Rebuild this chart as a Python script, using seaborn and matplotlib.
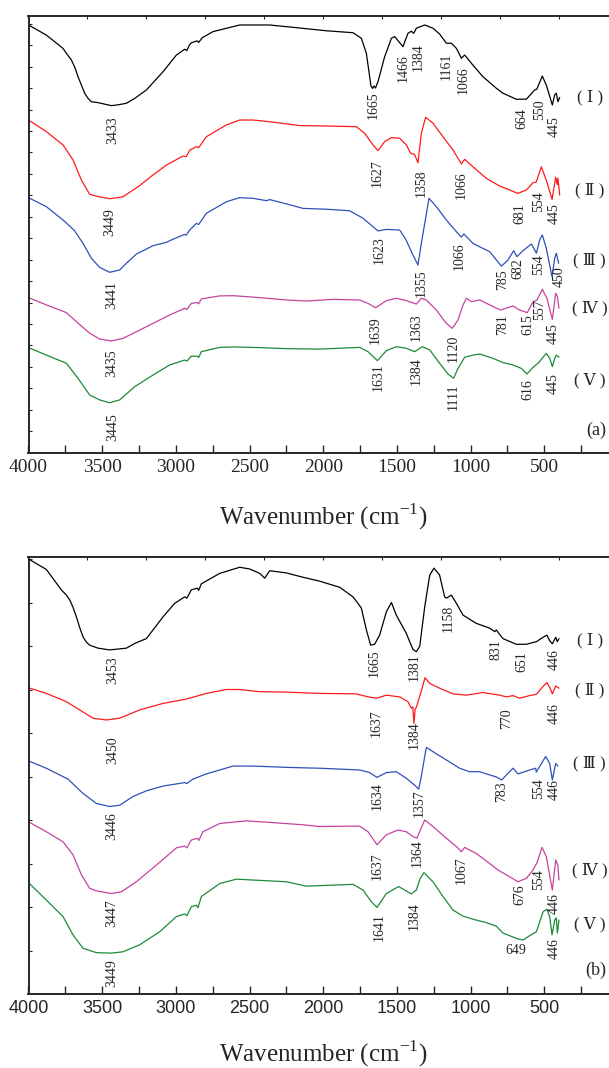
import numpy as np
import matplotlib
matplotlib.use('Agg')
import matplotlib.pyplot as plt
import seaborn as sns

# ---- spectra: [wavenumber, offset transmittance] ----
# panel (a)
a1 = np.array([[4000, 19.94], [3879, 19.47], [3766, 18.85], [3743, 18.62], [3709, 18.31], [3686, 17.97],
               [3664, 17.53], [3641, 17.14], [3619, 16.76], [3596, 16.52], [3573, 16.36], [3528, 16.32],
               [3483, 16.25], [3437, 16.18], [3390, 16.22], [3336, 16.29], [3279, 16.52], [3200, 16.91],
               [3087, 17.76], [2996, 18.54], [2940, 18.81], [2925, 18.75], [2910, 18.98], [2895, 19.11],
               [2855, 19.2], [2845, 19.13], [2820, 19.35], [2748, 19.63], [2567, 19.94], [2363, 19.94],
               [2160, 19.8], [1978, 19.67], [1798, 19.58], [1741, 19.32], [1707, 18.62], [1676, 17.1],
               [1665, 16.98], [1655, 17.1], [1645, 17.0], [1628, 17.3], [1583, 18.46], [1537, 19.32],
               [1515, 19.4], [1459, 18.93], [1425, 19.55], [1402, 19.65], [1386, 19.55], [1368, 19.79],
               [1311, 19.94], [1255, 19.79], [1210, 19.52], [1164, 19.09], [1130, 19.09], [1096, 18.85],
               [1062, 18.39], [1040, 18.54], [984, 18.07], [916, 17.53], [825, 16.99], [780, 16.76],
               [690, 16.48], [621, 16.48], [565, 16.91], [550, 16.95], [513, 17.56], [486, 17.14],
               [445, 16.21], [429, 16.68], [418, 16.76], [407, 16.36], [395, 16.56]])
a2 = np.array([[4000, 11.89], [4000, 15.51], [3879, 14.97], [3766, 14.35], [3698, 13.65], [3641, 12.71],
               [3585, 12.05], [3539, 11.96], [3449, 11.84], [3359, 11.93], [3246, 12.45], [3155, 12.95],
               [3064, 13.41], [2952, 13.83], [2930, 13.8], [2906, 14.1], [2861, 14.27], [2845, 14.22],
               [2793, 14.73], [2657, 15.28], [2567, 15.51], [2477, 15.51], [2363, 15.43], [2160, 15.25],
               [1978, 15.23], [1775, 15.2], [1719, 14.89], [1662, 14.35], [1628, 14.08], [1583, 14.5],
               [1537, 14.69], [1481, 14.66], [1436, 14.35], [1407, 13.96], [1380, 13.9], [1357, 13.52],
               [1334, 14.89], [1305, 15.64], [1255, 15.36], [1187, 14.73], [1119, 14.11], [1062, 13.46],
               [1040, 13.68], [984, 13.33], [893, 12.79], [802, 12.43], [735, 12.25], [678, 12.09],
               [621, 12.25], [576, 12.59], [554, 12.62], [520, 13.33], [486, 12.71], [447, 11.81],
               [422, 12.84], [411, 12.5], [407, 12.8], [395, 12.01]])
a3 = np.array([[4000, 7.97], [4000, 11.89], [3879, 11.47], [3766, 10.85], [3690, 10.37], [3630, 9.76],
               [3573, 9.06], [3517, 8.64], [3449, 8.41], [3381, 8.52], [3336, 8.83], [3268, 9.26],
               [3155, 9.65], [3064, 9.81], [3030, 9.92], [2940, 10.18], [2930, 10.14], [2906, 10.38],
               [2861, 10.69], [2845, 10.64], [2793, 11.16], [2657, 11.7], [2567, 11.89], [2477, 11.86],
               [2386, 11.75], [2363, 11.8], [2250, 11.6], [2137, 11.39], [1978, 11.35], [1821, 11.28],
               [1730, 10.93], [1628, 10.34], [1571, 10.41], [1481, 10.38], [1440, 9.95], [1391, 9.22],
               [1357, 8.75], [1334, 9.76], [1282, 11.86], [1232, 11.47], [1164, 10.85], [1096, 10.3],
               [1062, 10.05], [1045, 10.2], [984, 9.76], [938, 9.6], [870, 9.37], [791, 8.7],
               [746, 8.98], [707, 9.42], [685, 9.14], [644, 9.42], [587, 9.73], [553, 9.3],
               [531, 9.92], [513, 10.15], [486, 9.53], [447, 8.2], [429, 9.06], [418, 9.3], [402, 8.83]])
a4 = np.array([[4000, 4.9], [4000, 7.23], [3879, 6.89], [3743, 6.53], [3675, 6.11], [3585, 5.57],
               [3517, 5.3], [3437, 5.21], [3359, 5.33], [3268, 5.64], [3155, 6.03], [3042, 6.42],
               [2940, 6.73], [2925, 6.68], [2895, 6.96], [2855, 7.0], [2845, 6.94], [2827, 7.17],
               [2702, 7.31], [2612, 7.32], [2431, 7.23], [2250, 7.12], [2114, 7.07], [1934, 7.15],
               [1753, 7.12], [1696, 6.96], [1644, 6.76], [1571, 7.09], [1504, 7.2], [1436, 7.09],
               [1368, 6.93], [1334, 7.2], [1300, 7.12], [1232, 6.65], [1164, 6.03], [1124, 5.8],
               [1085, 6.19], [1051, 6.89], [1028, 7.2], [994, 7.04], [938, 7.12], [870, 6.89],
               [796, 6.65], [712, 6.84], [667, 6.65], [615, 6.53], [576, 7.04], [549, 7.12],
               [513, 7.62], [482, 7.2], [445, 6.22], [422, 7.43], [411, 7.3], [400, 6.73]])
a5 = np.array([[4000, 1.06], [4000, 4.9], [3879, 4.55], [3743, 4.17], [3664, 3.47], [3585, 2.69],
               [3517, 2.46], [3449, 2.33], [3381, 2.46], [3279, 3.08], [3155, 3.62], [3042, 4.09],
               [2940, 4.32], [2925, 4.27], [2895, 4.5], [2855, 4.5], [2845, 4.44], [2827, 4.71],
               [2702, 4.91], [2612, 4.93], [2431, 4.9], [2250, 4.85], [2024, 4.83], [1753, 4.91],
               [1696, 4.71], [1632, 4.29], [1571, 4.76], [1504, 4.94], [1436, 4.87], [1379, 4.71],
               [1327, 4.94], [1277, 4.79], [1210, 4.17], [1153, 3.67], [1115, 3.47], [1085, 3.93],
               [1040, 4.45], [984, 4.55], [938, 4.6], [848, 4.4], [780, 4.2], [712, 4.09],
               [655, 3.93], [617, 3.67], [576, 3.98], [542, 4.17], [486, 4.63], [463, 4.4],
               [445, 4.01], [429, 4.4], [418, 4.55], [400, 4.45]])

# panel (b)
b1 = np.array([[4000, 10.0], [3879, 9.76], [3777, 9.29], [3743, 9.17], [3720, 9.06], [3698, 8.89],
               [3675, 8.67], [3653, 8.43], [3630, 8.21], [3607, 8.09], [3585, 8.02], [3528, 7.95],
               [3449, 7.91], [3336, 7.95], [3279, 8.06], [3200, 8.17], [3087, 8.67], [3008, 8.98],
               [2940, 9.13], [2925, 9.1], [2895, 9.29], [2855, 9.33], [2845, 9.28], [2827, 9.43],
               [2702, 9.67], [2567, 9.81], [2499, 9.77], [2431, 9.67], [2397, 9.56], [2363, 9.73],
               [2250, 9.68], [2137, 9.58], [2024, 9.49], [1888, 9.35], [1798, 9.13], [1764, 8.98],
               [1741, 8.87], [1707, 8.37], [1678, 8.02], [1651, 8.04], [1617, 8.25], [1571, 8.79],
               [1537, 9.0], [1504, 8.71], [1436, 8.29], [1391, 7.92], [1368, 7.87], [1345, 7.99],
               [1311, 8.9], [1277, 9.63], [1248, 9.79], [1210, 9.63], [1176, 9.13], [1164, 9.1],
               [1130, 9.17], [1096, 8.98], [1051, 8.71], [961, 8.52], [870, 8.41], [835, 8.33],
               [825, 8.37], [810, 8.3], [780, 8.17], [690, 8.04], [621, 8.04], [553, 8.1],
               [508, 8.2], [482, 8.25], [463, 8.12], [445, 8.05], [422, 8.2], [411, 8.1], [400, 8.17]])
b2 = np.array([[4000, 5.36], [4000, 7.04], [3879, 6.91], [3743, 6.72], [3653, 6.53], [3562, 6.34],
               [3472, 6.3], [3381, 6.34], [3246, 6.53], [3087, 6.68], [2929, 6.78], [2793, 6.91],
               [2657, 7.0], [2567, 7.0], [2431, 6.95], [2250, 6.94], [2024, 6.91], [1775, 6.9],
               [1696, 6.83], [1639, 6.8], [1571, 6.87], [1481, 6.83], [1425, 6.72], [1402, 6.57],
               [1392, 6.6], [1384, 6.22], [1376, 6.55], [1368, 6.59], [1334, 6.97], [1309, 7.27],
               [1277, 7.14], [1210, 7.03], [1119, 6.9], [1028, 6.87], [916, 6.93], [802, 6.87],
               [757, 6.83], [712, 6.86], [667, 6.8], [599, 6.86], [553, 6.89], [508, 7.07],
               [482, 7.16], [463, 7.05], [445, 6.9], [422, 7.08], [400, 7.03]])
b3 = np.array([[4000, 3.96], [4000, 5.36], [3879, 5.19], [3732, 4.94], [3630, 4.61], [3539, 4.38],
               [3449, 4.31], [3381, 4.34], [3291, 4.54], [3200, 4.67], [3087, 4.78], [2940, 4.86],
               [2925, 4.84], [2884, 4.94], [2793, 5.06], [2702, 5.15], [2612, 5.24], [2477, 5.24],
               [2250, 5.21], [2024, 5.19], [1753, 5.15], [1685, 5.09], [1635, 4.98], [1571, 5.09],
               [1504, 5.11], [1436, 4.96], [1379, 4.8], [1352, 4.71], [1334, 5.0], [1323, 5.23],
               [1300, 5.67], [1255, 5.57], [1164, 5.38], [1074, 5.19], [1006, 5.11], [938, 5.11],
               [893, 5.06], [825, 4.99], [789, 4.92], [735, 5.11], [712, 5.19], [678, 5.06],
               [599, 5.15], [558, 5.19], [554, 5.1], [490, 5.46], [463, 5.3], [445, 4.92],
               [422, 5.3], [407, 5.24]])
b4 = np.array([[4000, 2.56], [4000, 3.96], [3879, 3.73], [3766, 3.5], [3698, 3.2], [3641, 2.74],
               [3585, 2.43], [3539, 2.37], [3437, 2.31], [3370, 2.35], [3268, 2.58], [3144, 2.93],
               [3064, 3.16], [2996, 3.36], [2940, 3.4], [2925, 3.36], [2895, 3.54], [2855, 3.58],
               [2845, 3.53], [2816, 3.73], [2702, 3.92], [2521, 3.98], [2341, 3.94], [2137, 3.89],
               [2024, 3.85], [1753, 3.86], [1696, 3.73], [1635, 3.43], [1571, 3.66], [1493, 3.77],
               [1436, 3.73], [1391, 3.62], [1364, 3.58], [1341, 3.77], [1311, 4.0], [1255, 3.85],
               [1164, 3.58], [1096, 3.39], [1062, 3.27], [1040, 3.37], [961, 3.23], [870, 3.0],
               [814, 2.85], [757, 2.74], [678, 2.58], [621, 2.66], [576, 2.85], [549, 3.02],
               [515, 3.37], [486, 3.16], [445, 2.39], [422, 3.08], [407, 2.95], [400, 2.62]])
b5 = np.array([[4000, 0.78], [4000, 2.56], [3879, 2.16], [3766, 1.78], [3698, 1.36], [3630, 1.05],
               [3539, 0.95], [3437, 0.94], [3359, 0.97], [3246, 1.13], [3110, 1.43], [2996, 1.78],
               [2940, 1.84], [2925, 1.8], [2895, 2.01], [2860, 2.04], [2850, 1.98], [2827, 2.24],
               [2702, 2.54], [2589, 2.64], [2477, 2.62], [2363, 2.6], [2250, 2.58], [2114, 2.48],
               [1798, 2.52], [1730, 2.39], [1673, 2.12], [1635, 1.99], [1571, 2.31], [1488, 2.47],
               [1436, 2.37], [1402, 2.3], [1368, 2.39], [1341, 2.66], [1316, 2.79], [1255, 2.58],
               [1187, 2.24], [1119, 1.93], [1051, 1.79], [984, 1.72], [893, 1.64], [825, 1.56],
               [780, 1.4], [735, 1.34], [690, 1.28], [644, 1.24], [599, 1.34], [553, 1.43],
               [508, 1.89], [482, 1.95], [463, 1.78], [447, 1.36], [429, 1.7], [418, 1.75],
               [411, 1.4], [400, 1.7]])

colors = ['#000000', '#ff1a1a', '#3050b8', '#c4449e', '#1b8a3a']

# peak labels: (text, wavenumber, level, rotation)
peaks_a = [('3433', 3427, 15.04, 90), ('1665', 1662, 16.21, 90), ('1466', 1459, 17.92, 90),
           ('1384', 1357, 18.46, 90), ('1161', 1164, 18.0, 90), ('1066', 1051, 17.38, 90),
           ('664', 655, 15.59, 90), ('550', 531, 15.98, 90), ('445', 429, 15.2, 90),
           ('3449', 3449, 10.77, 90), ('1627', 1635, 13.03, 90), ('1358', 1334, 12.56, 90),
           ('1066', 1062, 12.48, 90), ('681', 667, 11.16, 90), ('554', 536, 11.7, 90),
           ('445', 429, 11.16, 90), ('3441', 3437, 7.35, 90), ('1623', 1617, 9.45, 90),
           ('1355', 1334, 7.9, 90), ('1066', 1074, 9.14, 90), ('785', 780, 8.05, 90),
           ('682', 678, 8.6, 90), ('554', 536, 8.75, 90), ('450', 400, 8.2, 90),
           ('3435', 3437, 4.17, 90), ('1639', 1644, 5.72, 90), ('1363', 1368, 5.87, 90),
           ('1120', 1119, 4.87, 90), ('781', 784, 5.95, 90), ('615', 611, 5.95, 90),
           ('557', 531, 6.65, 90), ('445', 436, 5.57, 90), ('3445', 3427, 1.21, 90),
           ('1631', 1628, 3.54, 90), ('1384', 1368, 3.78, 90), ('1111', 1119, 2.61, 90),
           ('616', 611, 2.92, 90), ('445', 436, 3.2, 90)]
peaks_b = [('3453', 3427, 7.45, 90), ('1665', 1651, 7.6, 90), ('1381', 1379, 7.52, 90),
           ('1158', 1153, 8.64, 90), ('831', 825, 7.91, 90), ('651', 655, 7.64, 90),
           ('446', 434, 7.68, 90), ('3450', 3427, 5.61, 90), ('1637', 1639, 6.22, 90),
           ('1384', 1379, 5.95, 90), ('770', 757, 6.34, 90), ('446', 429, 6.45, 90),
           ('3446', 3437, 3.85, 90), ('1634', 1635, 4.54, 90), ('1357', 1345, 4.38, 90),
           ('783', 791, 4.65, 90), ('554', 536, 4.73, 90), ('446', 434, 4.69, 90),
           ('3447', 3437, 1.86, 90), ('1637', 1635, 2.93, 90), ('1364', 1364, 3.23, 90),
           ('1067', 1062, 2.85, 90), ('676', 662, 2.28, 90), ('554', 536, 2.62, 90),
           ('446', 429, 2.09, 90), ('3449', 3437, 0.48, 90), ('1641', 1621, 1.55, 90),
           ('1384', 1379, 1.78, 90), ('649', 690, 1.01, 0), ('446', 429, 1.05, 90)]

roman = ['( Ⅰ )', '( Ⅱ )', '( Ⅲ )', '( Ⅳ )', '( Ⅴ )']
roman_a = [16.57, 12.25, 8.98, 6.73, 3.39]
roman_b = [8.14, 6.99, 5.3, 2.85, 1.59]

sns.set_style('ticks')
plt.rcParams['font.family'] = ['Liberation Serif', 'DejaVu Serif', 'Noto Sans CJK SC']
plt.rcParams['mathtext.fontset'] = 'custom'
plt.rcParams['mathtext.rm'] = 'Liberation Serif'
plt.rcParams['axes.linewidth'] = 1.2

fig = plt.figure(figsize=(6.09, 10.68), dpi=100)
W, H = 609.0, 1068.0
ax_a = fig.add_axes([28.5 / W, 1 - 452.7 / H, 589.4 / W, (452.7 - 15.7) / H])
ax_b = fig.add_axes([28.5 / W, 1 - 994.0 / H, 589.4 / W, (994.0 - 557.3) / H])


def setup(ax, ytop, tickfont, tsize):
    ax.set_xlim(4000, 0)
    ax.set_ylim(0, ytop)
    ax.set_xticks(np.arange(4000, 499, -500))
    ax.set_xticks(np.arange(3750, 0, -500), minor=True)
    ax.set_yticks(np.arange(1, int(ytop) + 1))
    ax.set_yticklabels([])
    ax.tick_params(axis='x', which='both', direction='in', length=5.5, width=1.0, pad=4.5,
                   labelsize=tsize)
    ax.tick_params(axis='y', direction='in', length=2.5, width=0.8)
    for lab in ax.get_xticklabels():
        lab.set_fontfamily(tickfont)
    ax.set_xlabel('')
    ax.set_ylabel('')
    top = ax.twiny()
    top.set_xlim(4000, 0)
    top.set_xticks(np.arange(4000, 0, -400))
    top.tick_params(axis='x', direction='in', length=2.5, width=0.8, labeltop=False)
    for sp in ax.spines.values():
        sp.set_linewidth(1.2)


def draw(ax, curves, peaks, rlev, tag, tagy):
    for arr, c in zip(curves, colors):
        sns.lineplot(x=arr[:, 0], y=arr[:, 1], sort=False, estimator=None, color=c,
                     linewidth=0.9, ax=ax, legend=False)
    for txt, x, y, rot in peaks:
        ax.text(x, y, txt, rotation=rot, ha='center', va='center', fontsize=10)
    for txt, y in zip(roman, rlev):
        ax.text(192, y, txt, ha='center', va='center', fontsize=12,
                family=['Liberation Serif', 'DejaVu Serif', 'Noto Sans CJK SC'])
    ax.text(150, tagy, tag, ha='center', va='center', fontsize=13)


setup(ax_a, (452.7 - 15.7) / 21.45, 'Liberation Serif', 14)
setup(ax_b, (994.0 - 557.3) / 43.5, 'Liberation Sans', 13)
draw(ax_a, [a1, a2, a3, a4, a5], peaks_a, roman_a, '(a)', 1.06)
draw(ax_b, [b1, b2, b3, b4, b5], peaks_b, roman_b, '(b)', 0.55)

fig.text(323 / W, 1 - 517 / H, 'Wavenumber (cm$^{-1}$)', ha='center', va='center', fontsize=18)
fig.text(323 / W, 1 - 1054 / H, 'Wavenumber (cm$^{-1}$)', ha='center', va='center', fontsize=18)

fig.savefig('out.png', dpi=100)
